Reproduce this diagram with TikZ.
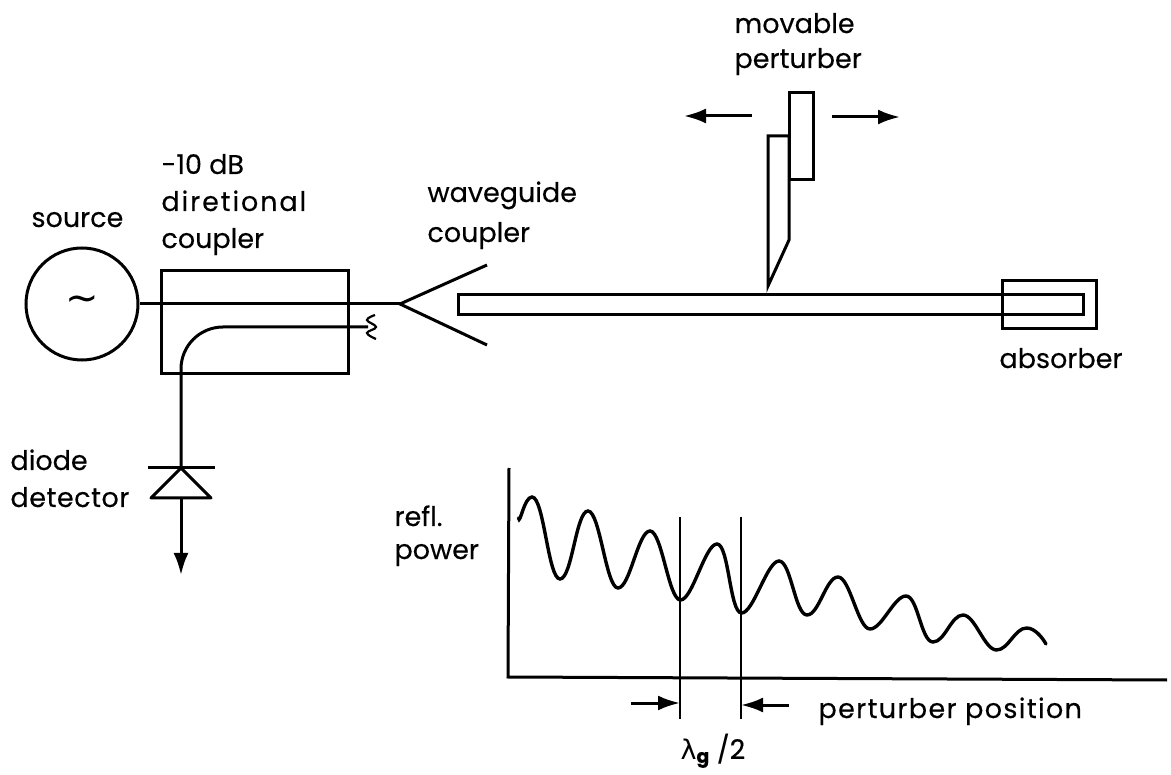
\documentclass[tikz,border=0pt]{standalone}
\usepackage{fontspec}
\setmainfont{Poppins}[FakeBold=0.25]
\newfontfamily\symbfont{DejaVu Sans}
\usepackage{tikz}
\usetikzlibrary{positioning,arrows.meta}

\begin{document}
\begin{tikzpicture}[
			x=1pt, y=-1pt,
			line width=3pt,
			label/.style={font=\fontsize{27}{37}\selectfont, align=left, inner sep=0pt, anchor=base west},
			devnode/.style={rectangle, draw, inner sep=0pt},
			sourcenode/.style={circle, draw, minimum size=112pt, inner sep=0pt, font=\fontsize{40}{40}\selectfont},
			solidarrow/.style={-{Latex[length=22pt,width=15pt]}},
			thinline/.style={line width=2.2pt},
			wave/.style={out=0, in=180, distance=12pt},
			]
			\useasboundingbox (0,0) rectangle (1171,775);

			%Nodes
			\node[sourcenode] (source) at (82,304) {\symbfont ∼};
			\node[devnode, minimum width=187pt, minimum height=103pt] (dircoupler) at (254.5,322.5) {};
			\node[devnode, minimum width=625pt, minimum height=20pt] (waveguide) at (770.5,305) {};
			\node[devnode, minimum width=94pt, minimum height=48pt] (absorber) at (1049,305) {};
			\node[devnode, minimum width=24pt, minimum height=87pt] (slider) at (801,136.5) {};

			%Coordinates
			\coordinate (hornapex) at (400,304);
			\coordinate (hornup)   at (487,265);
			\coordinate (horndown) at (487,345);
			\coordinate (loadend)  at (368,327);
			\coordinate (diodetop) at (181,468);
			\coordinate (diodebot) at (181,498);
			\coordinate (bladetip) at (768,286);

			%Coupler and horn
			\draw (source) -- (hornapex);
			\draw (hornup) -- (hornapex) -- (horndown);
			\draw[rounded corners=42pt] (loadend) -- (diodetop |- loadend) -- (diodetop);
			\draw[thinline] plot[smooth, tension=0.7] coordinates {(375,315) (367,320) (376,327) (367,333) (376,339)};

			%Diode
			\draw (148,468) -- (215,468);
			\draw[line join=round] (diodetop) -- (211,498) -- (151,498) -- cycle;
			\coordinate (diodeout) at (181,575);
			\draw[solidarrow] (diodebot) -- (diodeout);

			%Perturber
			\draw[line join=miter] (bladetip) -- (768,136) -- (789,136) -- (789,240) -- cycle;
			\coordinate (moveleft)   at (684,116);
			\coordinate (moveleftb)  at (752,116);
			\coordinate (moveright)  at (900,117);
			\coordinate (moverightb) at (832,117);
			\draw[solidarrow] (moveleftb) -- (moveleft);
			\draw[solidarrow] (moverightb) -- (moveright);

			%Plot
			\coordinate (origin) at (508,677);
			\coordinate (axistop) at (509,468);
			\coordinate (axisend) at (1167,680);
			\draw (axistop) -- (origin) -- (axisend);
			\draw[line width=3.4pt, line cap=round] (518.5,518) to[out=-80, in=180, distance=8pt] (532,497)
				to[wave] (560,579) to[wave] (588,511) to[wave] (618,588) to[wave] (650,531)
				to[wave] (680.5,600) to[wave] (717,544) to[wave] (741.6,613) to[wave] (779,561)
				to[wave] (807,615) to[wave] (838,577) to[wave] (870,629) to[wave] (906,596)
				to[wave] (933,642) to[wave] (963,615) to[wave] (996.5,650) to[wave] (1026.6,628)
				to[out=0, in=120, distance=8pt] (1046,644);
			\coordinate (marktop1) at (680,517);
			\coordinate (markbot1) at (680,719);
			\coordinate (marktop2) at (741,517);
			\coordinate (markbot2) at (741,719);
			\draw[thinline] (marktop1) -- (markbot1);
			\draw[thinline] (marktop2) -- (markbot2);
			\coordinate (gapleft)  at (631,703);
			\coordinate (gapright) at (789,705);
			\draw[solidarrow] (gapleft) -- (marktop1 |- gapleft);
			\draw[solidarrow] (gapright) -- (marktop2 |- gapright);

			%Labels
			\node[label] (sourcelabel) at (30,227) {source};
			\node[label] (couplerlabel) at (160,248) {-10 dB\\\addfontfeature{LetterSpace=7}diretional\\coupler};
			\node[label] (hornlabel) at (426,242) {waveguide\\[3pt]coupler};
			\node[label] (perturblabel) at (733,68) {movable\\[-2pt]perturber};
			\node[label] (absorblabel) at (998,368) {absorber};
			\node[label] (diodelabel) at (9,507) {diode\\{\addfontfeature{LetterSpace=2}detector}};
			\node[label] (powerlabel) at (393,559) {refl.\\[-4pt]power};
			\node[label] (poslabel) at (817,718) {\addfontfeature{LetterSpace=5}perturber position};
			\node[label] (gaplabel) at (679,759) {{\symbfont λ}\textsubscript{\textbf{g}}\hspace{7pt}/2};
		\end{tikzpicture}
\end{document}
